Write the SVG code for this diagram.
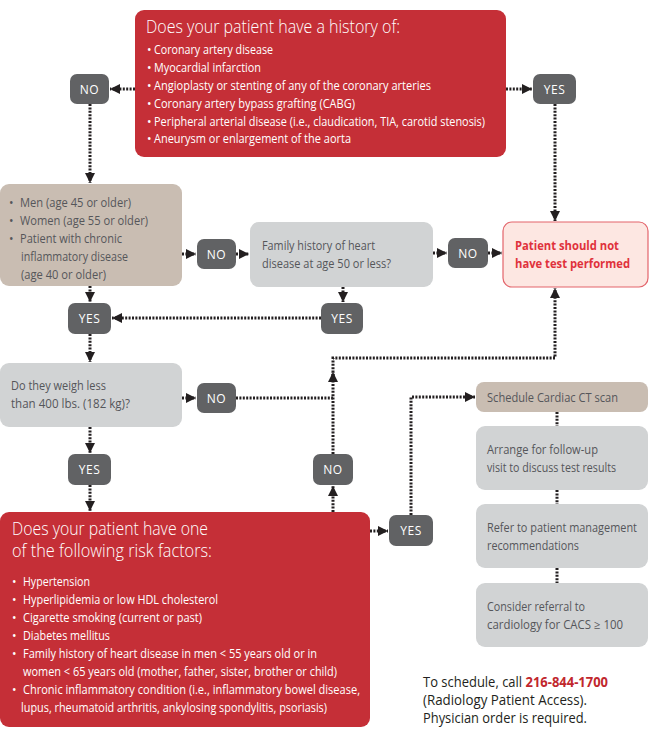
<svg xmlns="http://www.w3.org/2000/svg" width="659" height="752" viewBox="0 0 659 752">
<style>
.red{fill:#c52f37}
.tan{fill:#c9bdb2}
.gry{fill:#d1d3d4}
.dk{fill:#616264}
.pk{fill:#fde7e2;stroke:#e3646b;stroke-width:1.2}
text{font-family:"Open Sans","Liberation Sans",sans-serif}
.w{fill:#ffffff;font-size:12px}
.wt{fill:#ffffff;font-size:18px;font-weight:300}
.g{fill:#55565a;font-size:12px}
.lb{fill:#ffffff;font-size:12px;text-anchor:middle;letter-spacing:0.5px}
.pt{fill:#e0323c;font-size:12.5px;font-weight:bold}
.bt{fill:#231f20;font-size:14px}
.ph{fill:#c1272d;font-weight:bold}
.c{fill:none;stroke:#231f20;stroke-width:3;stroke-dasharray:2 1.4}
</style>
<defs>
<marker id="ah" viewBox="0 0 10 10" refX="10" refY="5" markerWidth="10" markerHeight="10" markerUnits="userSpaceOnUse" orient="auto">
<path d="M0,0 L10,5 L0,10 z" fill="#231f20"/>
</marker>
</defs>
<rect width="659" height="752" fill="#ffffff"/>

<g id="connectors">
<path class="c" d="M135,89 H110" marker-end="url(#ah)"/>
<path class="c" d="M506,89 H532" marker-end="url(#ah)"/>
<path class="c" d="M90,104 V183" marker-end="url(#ah)"/>
<path class="c" d="M555,104 V221" marker-end="url(#ah)"/>
<path class="c" d="M182,254 H196" marker-end="url(#ah)"/>
<path class="c" d="M236,254 H249" marker-end="url(#ah)"/>
<path class="c" d="M433,253 H447" marker-end="url(#ah)"/>
<path class="c" d="M488,253 H502" marker-end="url(#ah)"/>
<path class="c" d="M90,286 V302" marker-end="url(#ah)"/>
<path class="c" d="M343,287 V302" marker-end="url(#ah)"/>
<path class="c" d="M321,318 H112" marker-end="url(#ah)"/>
<path class="c" d="M90,334 V362" marker-end="url(#ah)"/>
<path class="c" d="M182,398 H196" marker-end="url(#ah)"/>
<path class="c" d="M236,398 H333"/>
<path class="c" d="M90,427 V453" marker-end="url(#ah)"/>
<path class="c" d="M90,485 V511" marker-end="url(#ah)"/>
<path class="c" d="M333,512 V486" marker-end="url(#ah)"/>
<path class="c" d="M333,454 V372" marker-end="url(#ah)"/>
<path class="c" d="M333,376 V358 H555 V288" marker-end="url(#ah)"/>
<path class="c" d="M370,531 H388" marker-end="url(#ah)"/>
<path class="c" d="M411,515 V397 H475" marker-end="url(#ah)"/>
<path class="c" d="M557,412 V426"/>
<path class="c" d="M557,490 V504"/>
<path class="c" d="M557,568 V583"/>
</g>

<g id="history">
<rect class="red" x="135" y="10" width="371" height="147" rx="9"/>
<text class="wt" x="146" y="33" textLength="254" lengthAdjust="spacingAndGlyphs">Does your patient have a history of:</text>
<text class="w" x="147" y="54">•</text><text class="w" x="154" y="54" textLength="119" lengthAdjust="spacingAndGlyphs">Coronary artery disease</text>
<text class="w" x="147" y="72">•</text><text class="w" x="154" y="72" textLength="107" lengthAdjust="spacingAndGlyphs">Myocardial infarction</text>
<text class="w" x="147" y="90">•</text><text class="w" x="154" y="90" textLength="277" lengthAdjust="spacingAndGlyphs">Angioplasty or stenting of any of the coronary arteries</text>
<text class="w" x="147" y="108">•</text><text class="w" x="154" y="108" textLength="201" lengthAdjust="spacingAndGlyphs">Coronary artery bypass grafting (CABG)</text>
<text class="w" x="147" y="126">•</text><text class="w" x="154" y="126" textLength="331" lengthAdjust="spacingAndGlyphs">Peripheral arterial disease (i.e., claudication, TIA, carotid stenosis)</text>
<text class="w" x="147" y="143">•</text><text class="w" x="154" y="143" textLength="197" lengthAdjust="spacingAndGlyphs">Aneurysm or enlargement of the aorta</text>
</g>

<g id="no1"><rect class="dk" x="70" y="74" width="39" height="30" rx="7"/><text class="lb" x="89.5" y="93.5">NO</text></g>
<g id="yes1"><rect class="dk" x="533" y="74" width="43" height="30" rx="7"/><text class="lb" x="554.5" y="93.5">YES</text></g>

<g id="age">
<rect class="tan" x="0" y="184" width="182" height="102" rx="9"/>
<text class="g" x="9" y="207">•</text><text class="g" x="20" y="207" textLength="111" lengthAdjust="spacingAndGlyphs">Men (age 45 or older)</text>
<text class="g" x="9" y="225">•</text><text class="g" x="20" y="225" textLength="128" lengthAdjust="spacingAndGlyphs">Women (age 55 or older)</text>
<text class="g" x="9" y="243">•</text><text class="g" x="20" y="243" textLength="102" lengthAdjust="spacingAndGlyphs">Patient with chronic</text>
<text class="g" x="21" y="261" textLength="107" lengthAdjust="spacingAndGlyphs">inflammatory disease</text>
<text class="g" x="21" y="279" textLength="85" lengthAdjust="spacingAndGlyphs">(age 40 or older)</text>
</g>

<g id="no2"><rect class="dk" x="197" y="239" width="39" height="30" rx="7"/><text class="lb" x="216.5" y="258.5">NO</text></g>

<g id="family">
<rect class="gry" x="250" y="222" width="183" height="65" rx="9"/>
<text class="g" x="262" y="250" textLength="113" lengthAdjust="spacingAndGlyphs">Family history of heart</text>
<text class="g" x="262" y="268" textLength="129" lengthAdjust="spacingAndGlyphs">disease at age 50 or less?</text>
</g>

<g id="no3"><rect class="dk" x="448" y="238" width="40" height="30" rx="7"/><text class="lb" x="468" y="257.5">NO</text></g>

<g id="notest">
<rect class="pk" x="503" y="222" width="145" height="65" rx="9"/>
<text class="pt" x="515" y="250" textLength="104" lengthAdjust="spacingAndGlyphs">Patient should not</text>
<text class="pt" x="515" y="268" textLength="115" lengthAdjust="spacingAndGlyphs">have test performed</text>
</g>

<g id="yes2"><rect class="dk" x="68" y="303" width="43" height="31" rx="7"/><text class="lb" x="89.5" y="323">YES</text></g>
<g id="yes3"><rect class="dk" x="321" y="303" width="42" height="31" rx="7"/><text class="lb" x="342" y="323">YES</text></g>

<g id="weigh">
<rect class="gry" x="0" y="363" width="182" height="64" rx="9"/>
<text class="g" x="11" y="390" textLength="95" lengthAdjust="spacingAndGlyphs">Do they weigh less</text>
<text class="g" x="11" y="408" textLength="119" lengthAdjust="spacingAndGlyphs">than 400 lbs. (182 kg)?</text>
</g>

<g id="no4"><rect class="dk" x="197" y="383" width="39" height="30" rx="7"/><text class="lb" x="216.5" y="402.5">NO</text></g>
<g id="yes4"><rect class="dk" x="68" y="454" width="43" height="31" rx="7"/><text class="lb" x="89.5" y="474">YES</text></g>
<g id="no5"><rect class="dk" x="313" y="454" width="40" height="31" rx="7"/><text class="lb" x="333" y="474">NO</text></g>

<g id="risk">
<rect class="red" x="0" y="512" width="370" height="215" rx="9"/>
<text class="wt" x="12" y="535" textLength="196" lengthAdjust="spacingAndGlyphs">Does your patient have one</text>
<text class="wt" x="12" y="557" textLength="200" lengthAdjust="spacingAndGlyphs">of the following risk factors:</text>
<text class="w" x="12" y="586">•</text><text class="w" x="23" y="586" textLength="67" lengthAdjust="spacingAndGlyphs">Hypertension</text>
<text class="w" x="12" y="604">•</text><text class="w" x="23" y="604" textLength="195" lengthAdjust="spacingAndGlyphs">Hyperlipidemia or low HDL cholesterol</text>
<text class="w" x="12" y="622">•</text><text class="w" x="23" y="622" textLength="179" lengthAdjust="spacingAndGlyphs">Cigarette smoking (current or past)</text>
<text class="w" x="12" y="640">•</text><text class="w" x="23" y="640" textLength="87" lengthAdjust="spacingAndGlyphs">Diabetes mellitus</text>
<text class="w" x="12" y="658">•</text><text class="w" x="23" y="658" textLength="294" lengthAdjust="spacingAndGlyphs">Family history of heart disease in men &lt; 55 years old or in</text>
<text class="w" x="23" y="676" textLength="314" lengthAdjust="spacingAndGlyphs">women &lt; 65 years old (mother, father, sister, brother or child)</text>
<text class="w" x="12" y="694">•</text><text class="w" x="23" y="694" textLength="337" lengthAdjust="spacingAndGlyphs">Chronic inflammatory condition (i.e., inflammatory bowel disease,</text>
<text class="w" x="21" y="712" textLength="306" lengthAdjust="spacingAndGlyphs">lupus, rheumatoid arthritis, ankylosing spondylitis, psoriasis)</text>
</g>

<g id="yes5"><rect class="dk" x="389" y="515" width="44" height="31" rx="7"/><text class="lb" x="411" y="535">YES</text></g>

<g id="schedule">
<rect class="tan" x="476" y="382" width="172" height="30" rx="8"/>
<text class="g" x="487" y="402" textLength="131" lengthAdjust="spacingAndGlyphs">Schedule Cardiac CT scan</text>
</g>
<g id="followup">
<rect class="gry" x="476" y="426" width="172" height="64" rx="9"/>
<text class="g" x="487" y="454" textLength="111" lengthAdjust="spacingAndGlyphs">Arrange for follow-up</text>
<text class="g" x="487" y="472" textLength="129" lengthAdjust="spacingAndGlyphs">visit to discuss test results</text>
</g>
<g id="refer">
<rect class="gry" x="476" y="504" width="172" height="64" rx="9"/>
<text class="g" x="487" y="532" textLength="150" lengthAdjust="spacingAndGlyphs">Refer to patient management</text>
<text class="g" x="487" y="550" textLength="92" lengthAdjust="spacingAndGlyphs">recommendations</text>
</g>
<g id="consider">
<rect class="gry" x="476" y="583" width="172" height="64" rx="9"/>
<text class="g" x="487" y="611" textLength="98" lengthAdjust="spacingAndGlyphs">Consider referral to</text>
<text class="g" x="487" y="629" textLength="136" lengthAdjust="spacingAndGlyphs">cardiology for CACS ≥ 100</text>
</g>

<g id="contact">
<text class="bt" x="423" y="687" textLength="185" lengthAdjust="spacingAndGlyphs">To schedule, call <tspan class="ph">216-844-1700</tspan></text>
<text class="bt" x="423" y="705" textLength="164" lengthAdjust="spacingAndGlyphs">(Radiology Patient Access).</text>
<text class="bt" x="423" y="723" textLength="164" lengthAdjust="spacingAndGlyphs">Physician order is required.</text>
</g>
</svg>
